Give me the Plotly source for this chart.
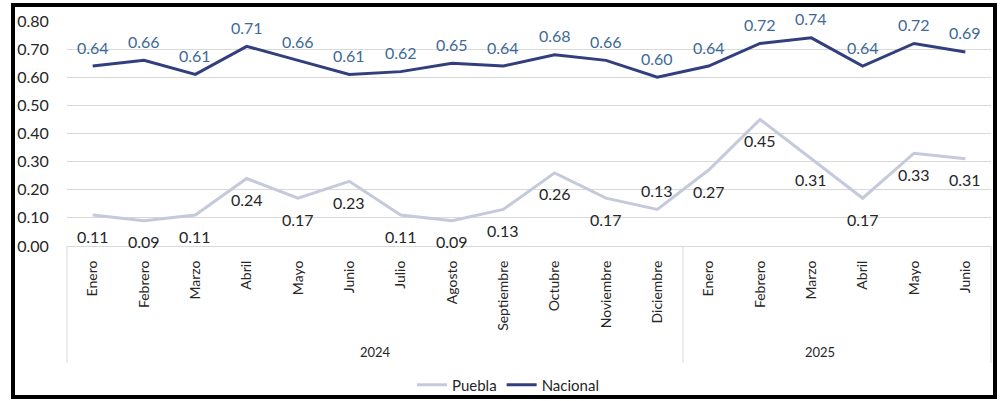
import plotly.graph_objects as go

# Monthly index values, January 2024 – June 2025
months = ["Enero", "Febrero", "Marzo", "Abril", "Mayo", "Junio", "Julio", "Agosto",
          "Septiembre", "Octubre", "Noviembre", "Diciembre",
          "Enero", "Febrero", "Marzo", "Abril", "Mayo", "Junio"]
years = ["2024", "2025"]
months_per_year = [12, 6]
puebla = [0.11, 0.09, 0.11, 0.24, 0.17, 0.23, 0.11, 0.09, 0.13, 0.26, 0.17, 0.13,
          0.27, 0.45, 0.31, 0.17, 0.33, 0.31]
nacional = [0.64, 0.66, 0.61, 0.71, 0.66, 0.61, 0.62, 0.65, 0.64, 0.68, 0.66, 0.60,
            0.64, 0.72, 0.74, 0.64, 0.72, 0.69]
# Puebla labels sit below the line except where noted
puebla_label_above = [False] * 11 + [True] + [False] * 6

W, H = 1001, 401
ML, MR, MT, MB = 67, 10, 21, 155
PW, PH = W - ML - MR, H - MT - MB

def px_x(p):
    return (p - ML) / PW

def px_y(p):
    return (H - MB - p) / PH

FONT = "Lato"
GRID = "#d9d9d9"
NAC_COLOR = "#323e7e"
PUE_COLOR = "#c5c9dc"

x = list(range(len(months)))

fig = go.Figure()
fig.add_trace(go.Scatter(x=x, y=puebla, name="Puebla", mode="lines",
                         line=dict(color=PUE_COLOR, width=3)))
fig.add_trace(go.Scatter(x=x, y=nacional, name="Nacional", mode="lines",
                         line=dict(color=NAC_COLOR, width=3)))

annotations = []
for i, v in enumerate(nacional):
    annotations.append(dict(x=i, y=v, text=f"{v:.2f}", showarrow=False, yshift=19,
                            font=dict(family=FONT, size=16, color="#3e6a96")))
for i, v in enumerate(puebla):
    annotations.append(dict(x=i, y=v, text=f"{v:.2f}", showarrow=False,
                            yshift=19 if puebla_label_above[i] else -21,
                            font=dict(family=FONT, size=16, color="#262626")))

# Year group labels and separators under the month axis
n = len(months)
shapes = []
start = 0
bottom = px_y(363)
shapes.append(dict(type="line", xref="paper", yref="paper", x0=0, x1=0, y0=0, y1=bottom,
                   line=dict(color=GRID, width=1)))
for yr, cnt in zip(years, months_per_year):
    end = start + cnt
    annotations.append(dict(xref="paper", yref="paper", x=(start + end) / 2 / n, y=px_y(352),
                            text=yr, showarrow=False, yanchor="middle",
                            font=dict(family=FONT, size=13, color="#262626")))
    shapes.append(dict(type="line", xref="paper", yref="paper", x0=end / n, x1=end / n,
                       y0=0, y1=bottom, line=dict(color=GRID, width=1)))
    start = end

# Outer frame
shapes.append(dict(type="rect", xref="paper", yref="paper",
                   x0=px_x(13), x1=px_x(995), y0=px_y(397), y1=px_y(5),
                   line=dict(color="black", width=4), layer="above"))

fig.update_layout(
    width=W, height=H,
    margin=dict(l=ML, r=MR, t=MT, b=MB, autoexpand=False),
    paper_bgcolor="white", plot_bgcolor="white",
    showlegend=True,
    legend=dict(orientation="h", x=px_x(508), xanchor="center", y=px_y(385), yanchor="middle",
                font=dict(family=FONT, size=15, color="#262626"), itemwidth=30,
                bgcolor="rgba(0,0,0,0)"),
    annotations=annotations,
    shapes=shapes,
    xaxis=dict(range=[-0.5, n - 0.5], tickvals=x, ticktext=months, tickangle=-90,
               showgrid=False, zeroline=False, showline=True, linecolor=GRID, linewidth=1,
               ticks="outside", ticklen=8, tickcolor="rgba(0,0,0,0)", automargin=False,
               tickfont=dict(family=FONT, size=14, color="#262626"), fixedrange=True),
    yaxis=dict(range=[0, 0.8], dtick=0.1, tickformat=".2f", showgrid=True, gridcolor=GRID,
               gridwidth=1, zeroline=False, showline=False, automargin=False,
               ticks="outside", ticklen=14, tickcolor="rgba(0,0,0,0)",
               tickfont=dict(family=FONT, size=16, color="#262626"), fixedrange=True),
)

fig.write_html("out.html", config={"displayModeBar": False})
